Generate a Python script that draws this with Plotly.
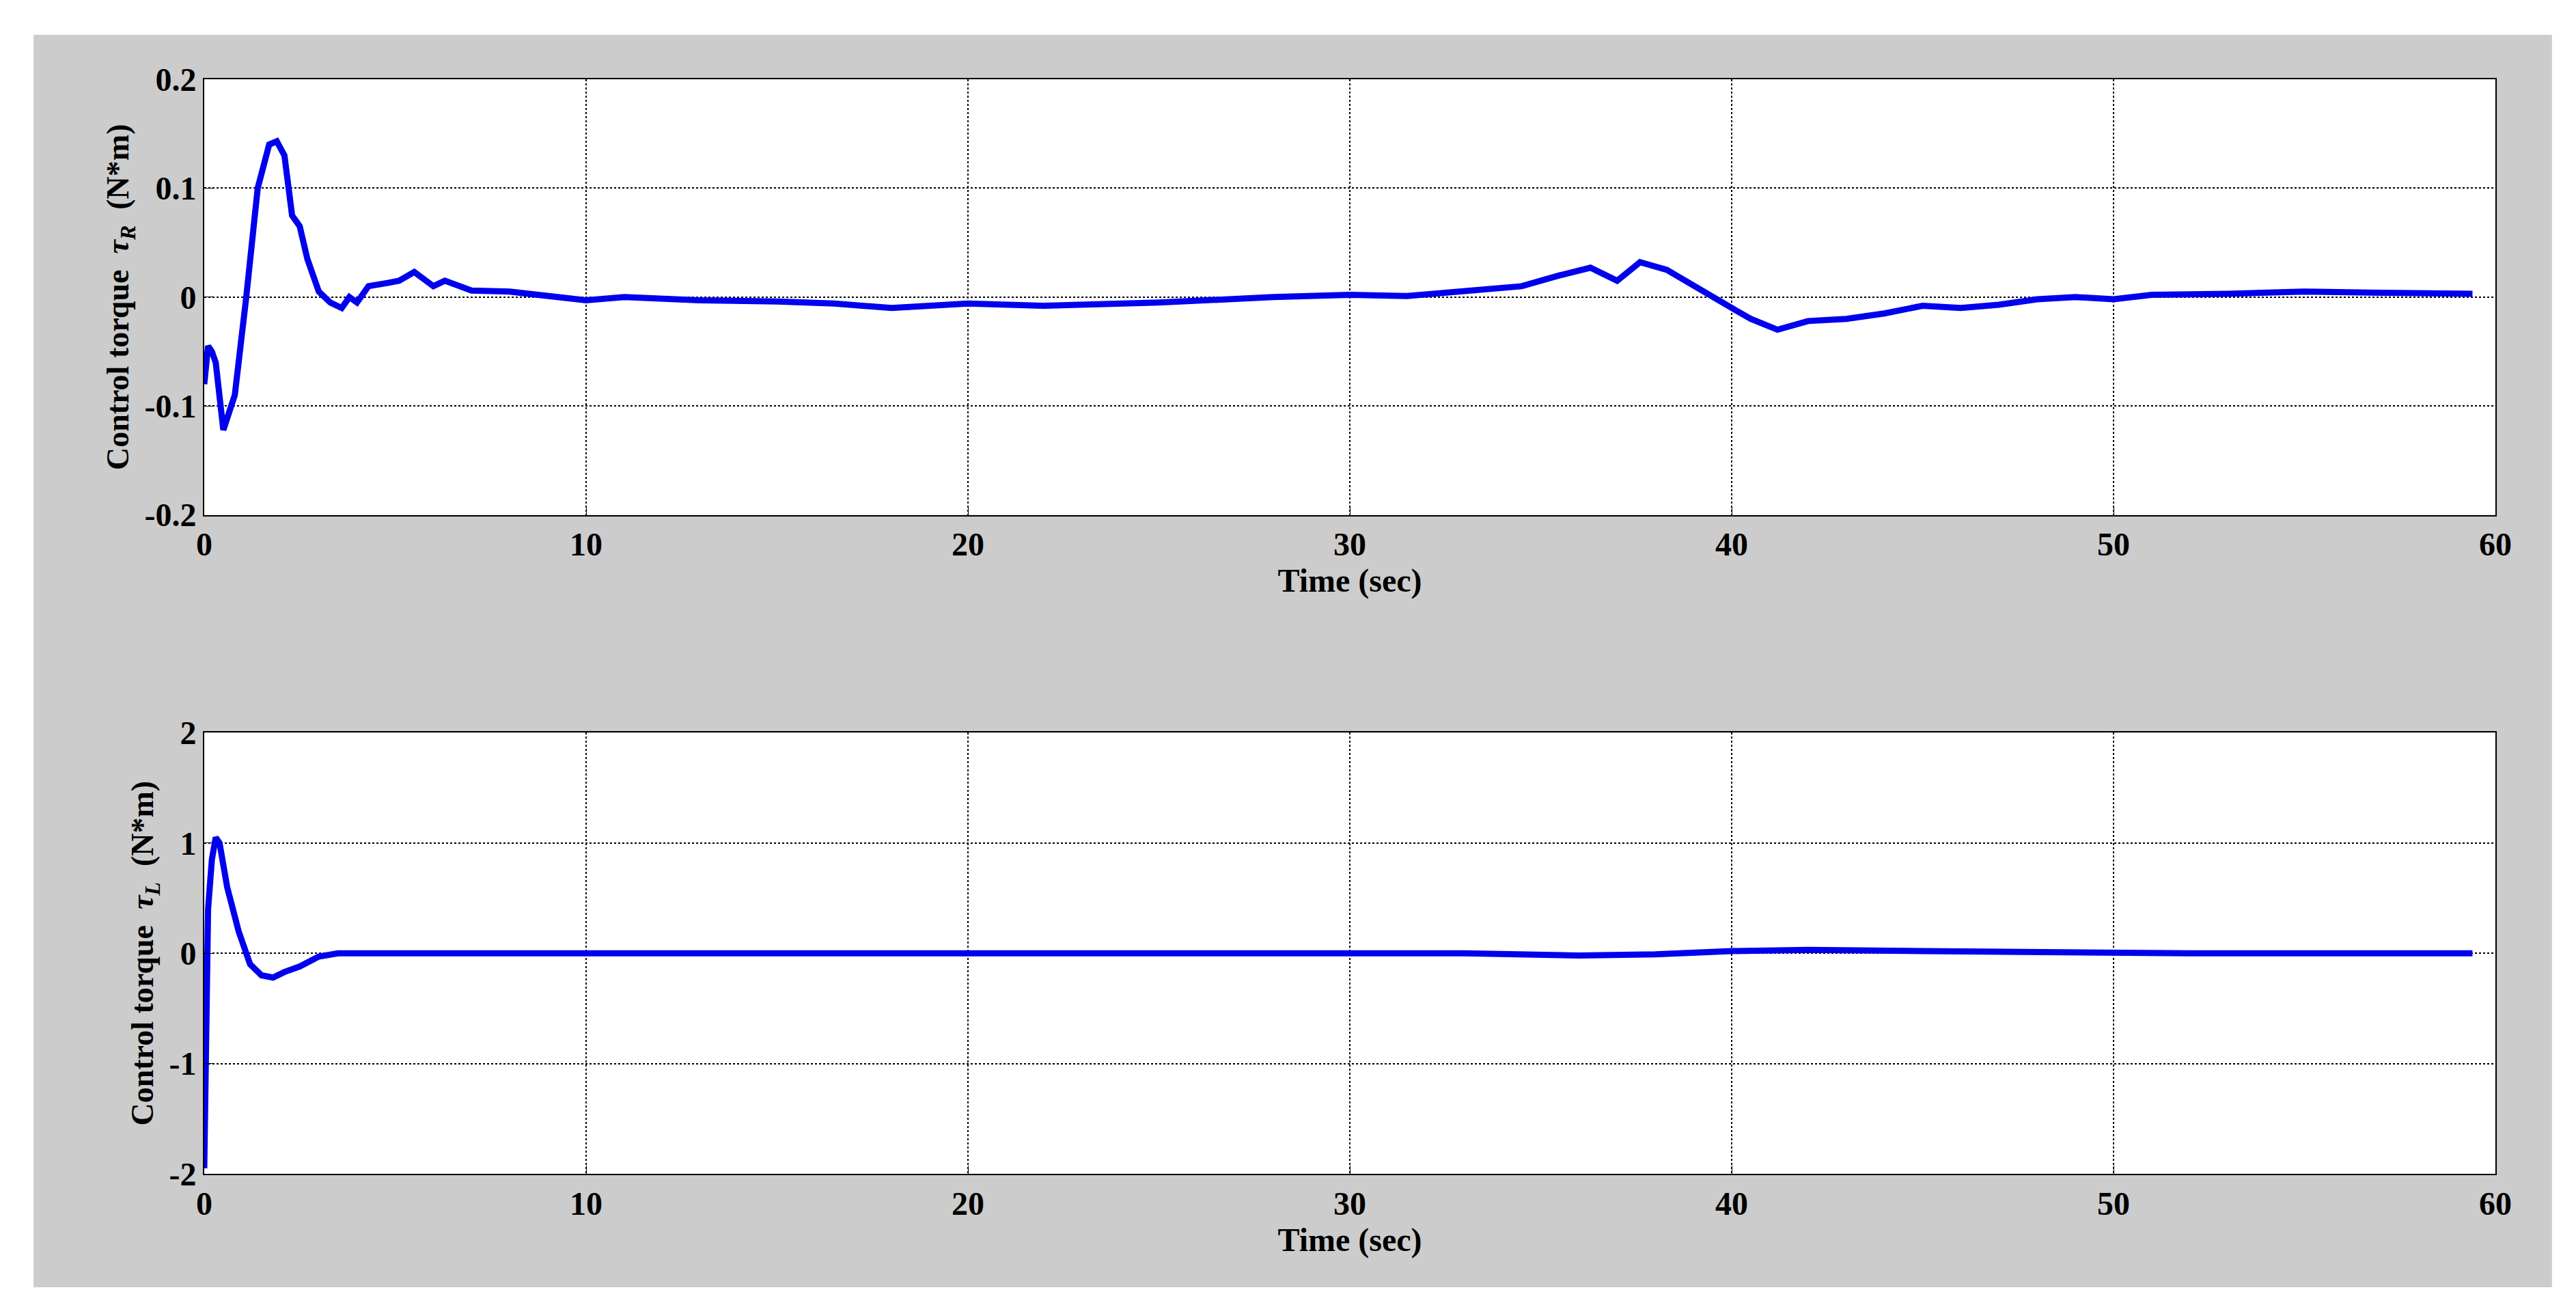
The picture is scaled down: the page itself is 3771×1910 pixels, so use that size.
import plotly.graph_objects as go
from plotly.subplots import make_subplots

t_R = [0,0.1,0.2,0.3,0.5,0.8,1.1,1.4,1.7,1.9,2.1,2.3,2.5,2.7,3.0,3.3,3.6,3.8,4.0,4.3,4.8,5.1,5.5,6.0,6.3,7,8,9.5,10,11,12,13,15,16.5,18,20,22,25,28,30,31.5,33,34.5,35.5,36.3,37,37.6,38.3,39,40,40.5,41.2,42,43,44,45,46,47,48,49,50,51,53,55,57,59.4]
tau_R = [-0.08,-0.045,-0.05,-0.06,-0.122,-0.09,0.0,0.1,0.14,0.143,0.13,0.075,0.065,0.035,0.005,-0.005,-0.01,0.0,-0.005,0.01,0.013,0.015,0.023,0.01,0.015,0.006,0.005,0.0,-0.003,0.0,-0.002,-0.003,-0.004,-0.006,-0.01,-0.006,-0.008,-0.005,0.0,0.002,0.001,0.005,0.01,0.02,0.027,0.015,0.032,0.025,0.01,-0.01,-0.02,-0.03,-0.022,-0.02,-0.015,-0.008,-0.01,-0.007,-0.002,0.0,-0.002,0.002,0.003,0.005,0.004,0.003]

t_L = [0,0.05,0.1,0.2,0.3,0.4,0.6,0.9,1.2,1.5,1.8,2.1,2.5,3,3.5,4,10,20,30,33,36,38,40,42,45,48,52,59.4]
tau_L = [-1.95,-0.5,0.4,0.85,1.05,1.0,0.6,0.2,-0.1,-0.2,-0.22,-0.17,-0.12,-0.03,0.0,0.0,0.0,0.01,0.0,0.0,-0.02,-0.01,0.02,0.03,0.02,0.01,0.0,0.0]

x_ticks = [0,10,20,30,40,50,60]
yR_ticks = [-0.2,-0.1,0,0.1,0.2]
yR_labels = ["-0.2","-0.1","0","0.1","0.2"]
yL_ticks = [-2,-1,0,1,2]

FONT = "Liberation Serif"
fig = make_subplots(rows=2, cols=1, vertical_spacing=0.199)
fig.add_trace(go.Scatter(x=t_R, y=tau_R, mode="lines", line=dict(color="#0000ee", width=9)), row=1, col=1)
fig.add_trace(go.Scatter(x=t_L, y=tau_L, mode="lines", line=dict(color="#0000ee", width=9)), row=2, col=1)

ax = dict(showline=True, linecolor="black", linewidth=2, mirror=True, showgrid=True,
          gridcolor="black", griddash="dot", gridwidth=2, ticks="inside", ticklen=12,
          tickcolor="black", zeroline=False,
          tickfont=dict(family=FONT, size=48, color="black"))
for r in (1, 2):
    fig.update_xaxes(range=[0, 60], tickvals=x_ticks, ticktext=["<b>%d</b>" % v for v in x_ticks],
                     title=dict(text="<b>Time (sec)</b>", standoff=2,
                     font=dict(family=FONT, size=48, color="black")), row=r, col=1, **ax)
fig.update_yaxes(range=[-0.2, 0.2], tickvals=yR_ticks, ticktext=["<b>%s</b>" % s for s in yR_labels],
                 title=dict(text="<b>Control torque  <i>τ</i><sub><i>R</i></sub>  (N*m)</b>", standoff=8,
                            font=dict(family=FONT, size=46, color="black")), row=1, col=1, **ax)
fig.update_yaxes(range=[-2, 2], tickvals=yL_ticks, ticktext=["<b>%d</b>" % v for v in yL_ticks],
                 title=dict(text="<b>Control torque  <i>τ</i><sub><i>L</i></sub>  (N*m)</b>", standoff=8,
                            font=dict(family=FONT, size=46, color="black")), row=2, col=1, **ax)
fig.update_yaxes(domain=[0.602, 1.0], row=1, col=1)
fig.update_yaxes(domain=[0.0, 0.403], row=2, col=1)

fig.add_shape(type="rect", xref="paper", yref="paper", x0=-0.0745, x1=1.0247, y0=-0.1036, y1=1.0406,
              fillcolor="#cccccc", line=dict(width=0), layer="below")
fig.add_shape(type="rect", xref="x domain", yref="y domain", x0=0, x1=1, y0=0, y1=1,
              fillcolor="white", line=dict(width=0), layer="below")
fig.add_shape(type="rect", xref="x2 domain", yref="y2 domain", x0=0, x1=1, y0=0, y1=1,
              fillcolor="white", line=dict(width=0), layer="below")
fig.update_layout(width=3771, height=1910, margin=dict(l=291, r=126, t=108, b=200),
                  paper_bgcolor="white", plot_bgcolor="white", showlegend=False,
                  font=dict(family=FONT, color="black"))
fig.write_html("out.html")
